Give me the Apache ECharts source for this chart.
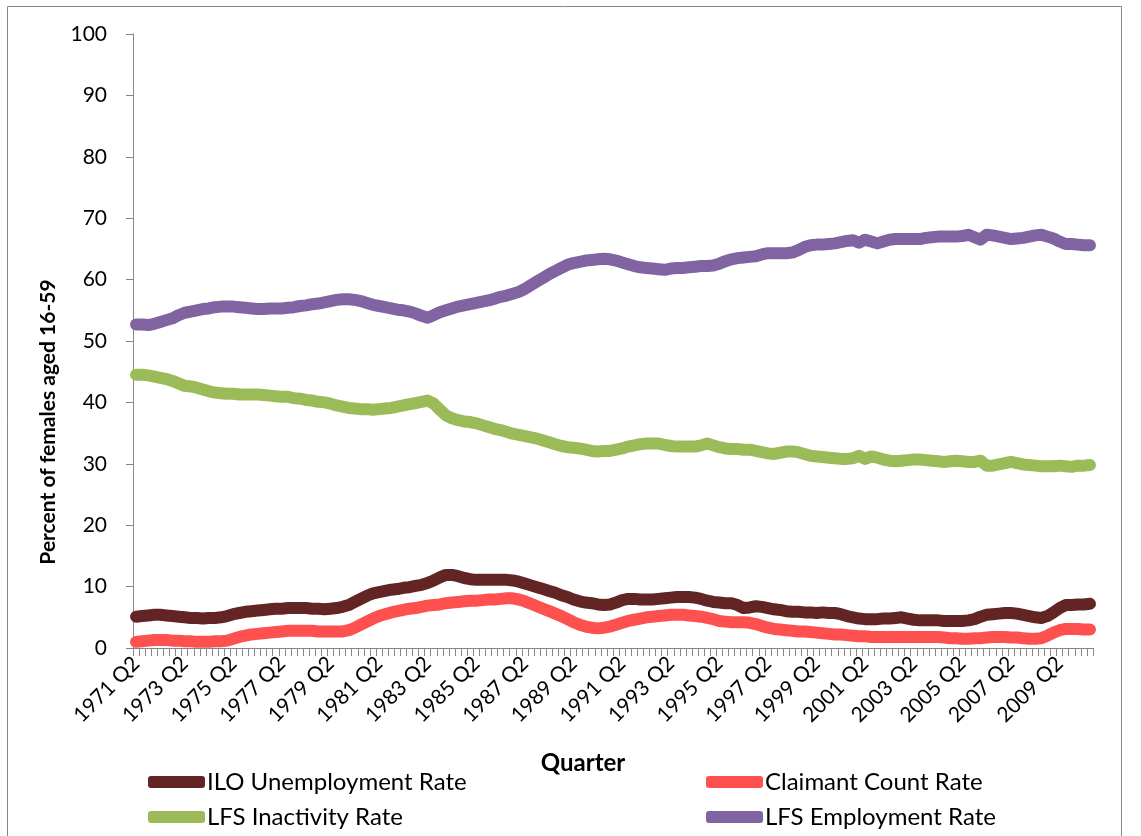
<!DOCTYPE html>
<html>
<head>
<meta charset="utf-8">
<title>Female labour market rates, 1971-2010</title>
<script src="https://cdn.jsdelivr.net/npm/echarts@6/dist/echarts.min.js"></script>
<style>
  html, body { margin: 0; padding: 0; background: #ffffff; }
  #chart { width: 1141px; height: 836px; }
</style>
</head>
<body>
<div id="chart"></div>
<script>
// Quarterly series, 1971 Q2 onwards (158 quarters), percent of females aged 16-59
const startYear = 1971;
const startQuarter = 2;
const quarterCount = 158;

const iloUnemployment = [
  5.1, 5.2, 5.3, 5.4, 5.4, 5.3, 5.2, 5.1, 5.0, 4.9,
  4.9, 4.8, 4.9, 4.9, 5.0, 5.2, 5.5, 5.7, 5.9, 6.0,
  6.1, 6.2, 6.3, 6.4, 6.4, 6.5, 6.5, 6.5, 6.5, 6.4,
  6.4, 6.3, 6.4, 6.5, 6.7, 7.0, 7.5, 8.0, 8.5, 8.9,
  9.1, 9.3, 9.5, 9.6, 9.8, 9.9, 10.1, 10.3, 10.6, 11.0,
  11.5, 11.9, 11.9, 11.7, 11.4, 11.2, 11.1, 11.1, 11.1, 11.1,
  11.1, 11.1, 11.0, 10.8, 10.5, 10.2, 9.9, 9.6, 9.3, 9.0,
  8.6, 8.3, 7.9, 7.6, 7.4, 7.3, 7.1, 7.0, 7.1, 7.4,
  7.8, 8.0, 8.0, 7.9, 7.9, 7.9, 8.0, 8.1, 8.2, 8.3,
  8.3, 8.3, 8.2, 8.0, 7.7, 7.5, 7.4, 7.3, 7.3, 7.0,
  6.5, 6.6, 6.8, 6.7, 6.5, 6.3, 6.2, 6.0, 5.9, 5.9,
  5.8, 5.8, 5.7, 5.8, 5.7, 5.7, 5.5, 5.2, 5.0, 4.8,
  4.7, 4.7, 4.7, 4.8, 4.8, 4.9, 5.0, 4.8, 4.6, 4.5,
  4.5, 4.5, 4.5, 4.4, 4.4, 4.4, 4.4, 4.5, 4.7, 5.1,
  5.4, 5.5, 5.6, 5.7, 5.7, 5.6, 5.4, 5.2, 5.0, 4.9,
  5.2, 5.8, 6.5, 7.0, 7.0, 7.1, 7.1, 7.2
];

const claimantCount = [
  1.0, 1.1, 1.2, 1.3, 1.3, 1.3, 1.2, 1.2, 1.1, 1.1,
  1.0, 1.0, 1.0, 1.1, 1.1, 1.2, 1.5, 1.8, 2.0, 2.2,
  2.3, 2.4, 2.5, 2.6, 2.7, 2.8, 2.8, 2.8, 2.8, 2.8,
  2.7, 2.7, 2.7, 2.7, 2.7, 2.9, 3.3, 3.8, 4.3, 4.8,
  5.2, 5.5, 5.8, 6.0, 6.2, 6.4, 6.5, 6.7, 6.9, 7.0,
  7.1, 7.3, 7.4, 7.5, 7.6, 7.7, 7.7, 7.8, 7.9, 7.9,
  8.0, 8.1, 8.1, 7.9, 7.6, 7.2, 6.8, 6.4, 6.0, 5.6,
  5.2, 4.7, 4.2, 3.8, 3.5, 3.3, 3.2, 3.3, 3.5, 3.8,
  4.1, 4.4, 4.6, 4.8, 5.0, 5.1, 5.2, 5.3, 5.4, 5.4,
  5.4, 5.3, 5.2, 5.1, 4.9, 4.7, 4.4, 4.3, 4.2, 4.2,
  4.2, 4.1, 3.9, 3.6, 3.3, 3.1, 3.0, 2.9, 2.8, 2.7,
  2.7, 2.6, 2.5, 2.4, 2.3, 2.2, 2.2, 2.1, 2.0, 1.9,
  1.9, 1.8, 1.8, 1.8, 1.8, 1.8, 1.8, 1.8, 1.8, 1.8,
  1.8, 1.8, 1.8, 1.7, 1.6, 1.6, 1.5, 1.5, 1.6, 1.6,
  1.7, 1.8, 1.8, 1.8, 1.7, 1.7, 1.6, 1.5, 1.5, 1.6,
  2.0, 2.5, 2.9, 3.1, 3.1, 3.1, 3.0, 3.0
];

const lfsInactivity = [
  44.5, 44.5, 44.4, 44.2, 44.0, 43.8, 43.5, 43.1, 42.7, 42.6,
  42.4, 42.1, 41.8, 41.6, 41.5, 41.4, 41.4, 41.3, 41.3, 41.3,
  41.3, 41.2, 41.1, 41.0, 40.9, 40.9, 40.7, 40.6, 40.4, 40.3,
  40.1, 40.0, 39.8, 39.5, 39.3, 39.1, 39.0, 38.9, 38.9, 38.8,
  38.9, 39.0, 39.1, 39.3, 39.5, 39.7, 39.9, 40.1, 40.3, 39.8,
  38.8, 37.9, 37.4, 37.1, 36.9, 36.8, 36.6, 36.3, 36.0, 35.7,
  35.5, 35.2, 34.9, 34.7, 34.5, 34.3, 34.1, 33.8, 33.5, 33.2,
  32.9, 32.7, 32.6, 32.5, 32.3, 32.1, 32.0, 32.1, 32.1, 32.3,
  32.5, 32.8, 33.0, 33.2, 33.3, 33.3, 33.3, 33.1, 32.9, 32.8,
  32.8, 32.8, 32.8, 33.0, 33.3, 33.0, 32.7, 32.5, 32.4, 32.4,
  32.3, 32.3, 32.1, 31.9, 31.7, 31.6, 31.8, 32.0, 32.0, 31.9,
  31.6, 31.3, 31.2, 31.1, 31.0, 30.9, 30.8, 30.8, 30.9, 31.3,
  30.8, 31.2, 31.0, 30.7, 30.5, 30.4, 30.5, 30.6, 30.7, 30.7,
  30.6, 30.5, 30.4, 30.3, 30.4, 30.5, 30.4, 30.3, 30.3, 30.5,
  29.7, 29.7, 29.9, 30.1, 30.3, 30.1, 29.9, 29.8, 29.7, 29.6,
  29.6, 29.6, 29.7, 29.6, 29.5, 29.7, 29.7, 29.8
];

const lfsEmployment = [
  52.7, 52.7, 52.6, 52.8, 53.1, 53.4, 53.7, 54.2, 54.6, 54.8,
  55.0, 55.2, 55.3, 55.5, 55.6, 55.6, 55.6, 55.5, 55.4, 55.3,
  55.2, 55.2, 55.3, 55.3, 55.3, 55.4, 55.5, 55.7, 55.8, 56.0,
  56.1, 56.3, 56.5, 56.7, 56.8, 56.8, 56.7, 56.5, 56.2, 55.9,
  55.7, 55.5, 55.3, 55.1, 55.0, 54.8, 54.5, 54.1, 53.8, 54.2,
  54.7, 55.0, 55.3, 55.6, 55.8, 56.0, 56.2, 56.4, 56.6, 56.9,
  57.2, 57.4, 57.7, 58.0, 58.5, 59.1, 59.7, 60.3, 60.9, 61.4,
  61.9, 62.4, 62.7, 62.9, 63.1, 63.2, 63.3, 63.4, 63.3, 63.1,
  62.8, 62.5, 62.2, 62.0, 61.9, 61.8, 61.7, 61.6, 61.8, 61.9,
  61.9, 62.0, 62.1, 62.2, 62.2, 62.3, 62.6, 63.0, 63.3, 63.5,
  63.6, 63.7, 63.8, 64.1, 64.3, 64.3, 64.3, 64.3, 64.4, 64.8,
  65.3, 65.6, 65.7, 65.7, 65.8, 65.9, 66.1, 66.3, 66.4, 66.0,
  66.5, 66.2, 65.9, 66.2, 66.5, 66.6, 66.6, 66.6, 66.6, 66.6,
  66.8, 66.9, 67.0, 67.0, 67.0, 67.0, 67.1, 67.3, 66.9, 66.5,
  67.3, 67.2, 67.0, 66.8, 66.6, 66.7, 66.8, 67.0, 67.2, 67.3,
  67.0, 66.7, 66.2, 65.8, 65.8, 65.7, 65.6, 65.6
];

const seriesNames = [
  'ILO Unemployment Rate',
  'Claimant Count Rate',
  'LFS Inactivity Rate',
  'LFS Employment Rate'
];
const seriesColors = ['#632523', '#ff5050', '#9bbb59', '#8064a2'];

// Quarter labels: "1971 Q2", "1971 Q3", ...
const quarters = [];
for (let i = 0; i < quarterCount; i++) {
  const q = (startQuarter - 1 + i) % 4 + 1;
  const y = startYear + Math.floor((startQuarter - 1 + i) / 4);
  quarters.push(y + ' Q' + q);
}

const FONT = 'Lato';
const AXIS_GREY = '#868686';

const chart = echarts.init(document.getElementById('chart'), null, { renderer: 'canvas' });

const dataSets = [iloUnemployment, claimantCount, lfsInactivity, lfsEmployment];

// Legend laid out as a 2 x 2 block: one legend component per entry
const legendSlots = [
  { left: 143, top: 765 },  // ILO Unemployment Rate
  { left: 701, top: 765 },  // Claimant Count Rate
  { left: 143, top: 800 },  // LFS Inactivity Rate
  { left: 701, top: 800 }   // LFS Employment Rate
];

chart.setOption({
  animation: false,
  backgroundColor: '#ffffff',
  textStyle: { fontFamily: FONT },
  graphic: [{
    type: 'rect',
    shape: { x: 7.5, y: 6.5, width: 1114, height: 850 },
    style: { fill: 'none', stroke: AXIS_GREY, lineWidth: 1 },
    silent: true,
    z: -10
  }],
  grid: { left: 133, right: 48, top: 34, bottom: 188, containLabel: false },
  legend: seriesNames.map((name, k) => ({
    data: [name],
    left: legendSlots[k].left,
    top: legendSlots[k].top,
    itemWidth: 57,
    itemHeight: 12,
    icon: 'roundRect',
    selectedMode: false,
    textStyle: { fontFamily: FONT, fontSize: 24, color: '#000', padding: [0, 0, 0, -3] }
  })),
  xAxis: {
    type: 'category',
    data: quarters,
    boundaryGap: true,
    name: 'Quarter',
    nameLocation: 'middle',
    nameGap: 103,
    nameTextStyle: {
      fontFamily: FONT, fontSize: 24, fontWeight: 'bold', color: '#000',
      padding: [0, 60, 0, 0]
    },
    axisLine: { show: true, lineStyle: { color: AXIS_GREY, width: 1 } },
    axisTick: { show: true, interval: 0, length: 8, lineStyle: { color: AXIS_GREY } },
    axisLabel: {
      interval: 7,
      rotate: 45,
      margin: 12,
      fontFamily: FONT,
      fontSize: 21,
      color: '#000'
    },
    splitLine: { show: false }
  },
  yAxis: {
    type: 'value',
    min: 0,
    max: 100,
    interval: 10,
    name: 'Percent of females aged 16-59',
    nameLocation: 'middle',
    nameGap: 74,
    // right padding pushes the rotated title down the axis
    nameTextStyle: {
      fontFamily: FONT, fontSize: 21, fontWeight: 'bold', color: '#000',
      padding: [0, 162, 0, 0]
    },
    axisLine: { show: true, lineStyle: { color: AXIS_GREY, width: 1 } },
    axisTick: { show: true, length: 7, lineStyle: { color: AXIS_GREY } },
    axisLabel: { margin: 26, fontFamily: FONT, fontSize: 21, color: '#000' },
    splitLine: { show: false }
  },
  series: seriesNames.map((name, k) => ({
    name: name,
    type: 'line',
    data: dataSets[k],
    showSymbol: false,
    symbol: 'none',
    smooth: false,
    color: seriesColors[k],
    lineStyle: { width: 12, color: seriesColors[k], cap: 'round', join: 'round' },
    emphasis: { disabled: true }
  }))
});
</script>
</body>
</html>
